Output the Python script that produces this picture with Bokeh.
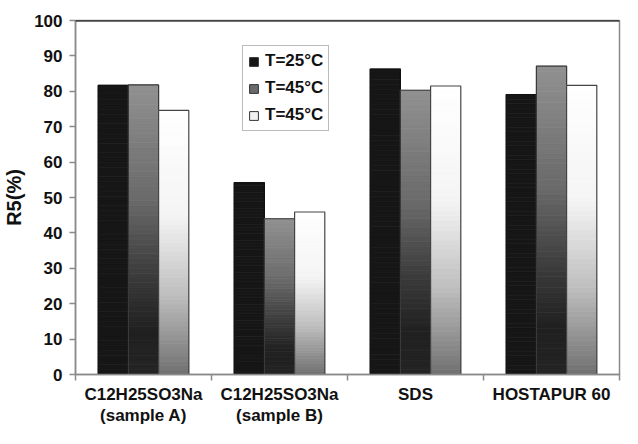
from bokeh.plotting import figure
from bokeh.models import (ColumnDataSource, FixedTicker, Legend, LegendItem, Span)
from bokeh.embed import file_html
from bokeh.resources import INLINE

# ---- data ----
categories = ["C12H25SO3Na\n(sample A)", "C12H25SO3Na\n(sample B)", "SDS", "HOSTAPUR 60"]
series_names = ["T=25°C", "T=45°C", "T=45°C"]
t25 = [81.7, 54.2, 86.3, 79.1]
t45a = [81.8, 44.0, 80.3, 87.1]
t45b = [74.6, 45.9, 81.5, 81.7]
y_ticks = [0, 10, 20, 30, 40, 50, 60, 70, 80, 90, 100]

series = [t25, t45a, t45b]

# gradient stops: (fraction from top, grey level)
stops = [
    [(0.0, 22), (1.0, 22)],
    [(0.0, 145), (0.4, 105), (0.65, 60), (0.85, 32), (1.0, 36)],
    [(0.0, 255), (0.4, 244), (0.7, 190), (1.0, 112)],
]
outline_cols = ["#111111", "#3a3a3a", "#444444"]
legend_cols = ["#151515", "#6a6a6a", "#f2f2f2"]

def grey_at(st, t):
    for (t0, g0), (t1, g1) in zip(st[:-1], st[1:]):
        if t0 <= t <= t1:
            g = g0 + (g1 - g0) * (t - t0) / (t1 - t0) if t1 > t0 else g0
            g = int(round(g))
            return "#%02x%02x%02x" % (g, g, g)
    g = st[-1][1]
    return "#%02x%02x%02x" % (g, g, g)

p = figure(width=622, height=428, x_range=(0, 4), y_range=(0, 100),
           output_backend="svg", toolbar_location=None,
           min_border_left=75, min_border_right=3, min_border_top=20,
           min_border_bottom=30)
p.background_fill_color = "white"
p.border_fill_color = "white"
p.outline_line_color = "#8a8a8a"
p.outline_line_width = 1.5
p.xgrid.visible = False
p.ygrid.visible = False

bw = 0.222
offsets = [-bw, 0.0, bw]
N = 60
for s, vals in enumerate(series):
    xs, bots, tops, cols = [], [], [], []
    for i, v in enumerate(vals):
        xc = i + 0.5 + offsets[s]
        for k in range(N):
            b = v * k / N
            tp = v * (k + 1) / N
            t = 1 - (k + 0.5) / N
            xs.append(xc); bots.append(b); tops.append(tp); cols.append(grey_at(stops[s], t))
    src = ColumnDataSource(dict(x=xs, bottom=bots, top=tops, color=cols))
    p.vbar(x="x", bottom="bottom", top="top", width=bw, source=src,
           fill_color="color", line_color="color", line_width=0.8)
    osrc = ColumnDataSource(dict(x=[i + 0.5 + offsets[s] for i in range(len(vals))], top=vals))
    p.vbar(x="x", top="top", bottom=0, width=bw, source=osrc,
           fill_color=None, line_color=outline_cols[s], line_width=1.2)

# top border
p.add_layout(Span(location=100, dimension="width", line_color="black", line_width=2))

# legend (dummy renderers placed outside the visible range)
items = []
for s in range(3):
    r = p.vbar(x=[-5], top=[0], width=bw, fill_color=legend_cols[s], line_color="#333333", line_width=1)
    items.append(LegendItem(label=series_names[s], renderers=[r]))
leg = Legend(items=items, location=(167, 243), orientation="vertical")
leg.label_text_font = "Liberation Sans"
leg.label_text_font_style = "bold"
leg.label_text_font_size = "17px"
leg.label_text_color = "#111111"
leg.glyph_width = 11
leg.glyph_height = 11
leg.label_height = 20
leg.label_standoff = 6
leg.spacing = 7
leg.padding = 5
leg.margin = 0
leg.border_line_color = "#777777"
leg.border_line_width = 1
leg.background_fill_color = "white"
leg.background_fill_alpha = 1
p.add_layout(leg, "center")

# y axis
ya = p.yaxis[0]
ya.ticker = FixedTicker(ticks=y_ticks)
ya.axis_label = "R5(%)"
ya.axis_label_text_font = "Liberation Sans"
ya.axis_label_text_font_style = "bold"
ya.axis_label_text_font_size = "20px"
ya.axis_label_text_color = "#111111"
ya.axis_label_standoff = 6
ya.major_label_text_font = "Liberation Sans"
ya.major_label_text_font_style = "bold"
ya.major_label_text_font_size = "17px"
ya.major_label_text_color = "#111111"
ya.major_label_standoff = 7
ya.major_tick_out = 6
ya.major_tick_in = 0
ya.minor_tick_out = 0
ya.minor_tick_in = 0
ya.axis_line_color = "#8a8a8a"
ya.axis_line_width = 1.5
ya.major_tick_line_color = "#8a8a8a"
ya.major_tick_line_width = 1.5

# x axis: labels at centers, ticks at boundaries (minor)
xa = p.xaxis[0]
centers = [i + 0.5 for i in range(len(categories))]
bounds = [float(i) for i in range(len(categories) + 1)]
xa.ticker = FixedTicker(ticks=centers, minor_ticks=bounds)
xa.major_label_overrides = {c: lab for c, lab in zip(centers, categories)}
xa.major_label_text_font = "Liberation Sans"
xa.major_label_text_font_style = "bold"
xa.major_label_text_font_size = "17px"
xa.major_label_text_color = "#111111"
xa.major_label_text_line_height = 1.15
xa.major_label_standoff = 4
xa.major_tick_out = 0
xa.major_tick_in = 0
xa.minor_tick_out = 6
xa.minor_tick_in = 0
xa.minor_tick_line_color = "#8a8a8a"
xa.minor_tick_line_width = 1.5
xa.axis_line_color = "#8a8a8a"
xa.axis_line_width = 1.5

open("out.html", "w").write(file_html(p, INLINE))
